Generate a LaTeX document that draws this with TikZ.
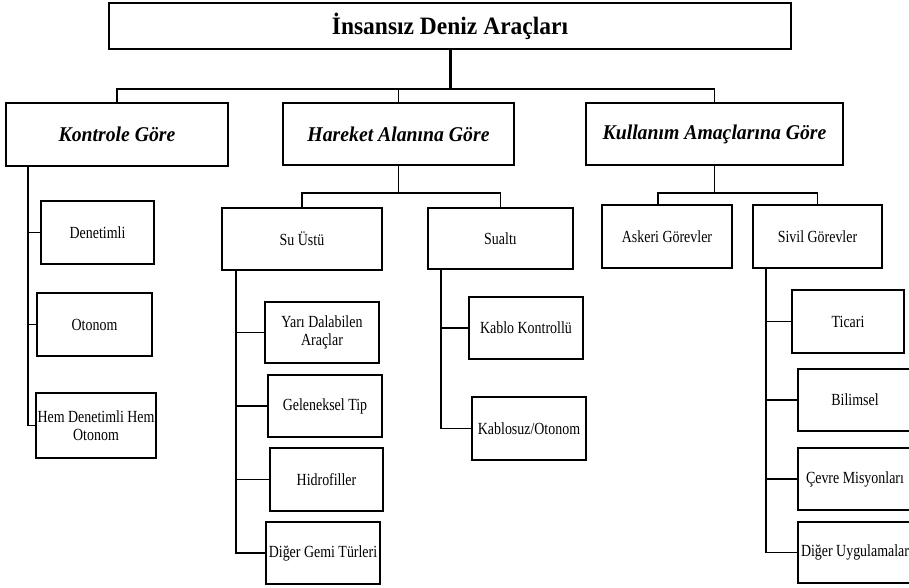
\documentclass[tikz,border=0pt]{standalone}
\usepackage{fontspec}
\setmainfont{Liberation Serif}
\newfontfamily\headfont[FakeStretch=0.94]{Liberation Serif}
\newfontfamily\leaffont[FakeStretch=0.82]{Liberation Serif}
\usetikzlibrary{calc}

\begin{document}
\begin{tikzpicture}[
	x=1pt,y=-1pt,
	box/.style={draw,line width=2pt,inner sep=1pt,align=center,
		font=\leaffont\fontsize{17}{17.5}\selectfont},
	top box/.style={box,font=\headfont\fontsize{25}{28}\selectfont\bfseries},
	mid box/.style={box,font=\headfont\fontsize{21}{24}\selectfont\bfseries\itshape},
	link/.style={line width=1.8pt}
	]
	
	\useasboundingbox (0,0) rectangle (909,587);
	
	% root and the three groups
	\node[top box,minimum width=682pt,minimum height=46pt] (T) at (450,26) {İnsansız Deniz Araçları};
	\node[mid box,minimum width=222pt,minimum height=63pt] (K) at (117,134.5) {Kontrole Göre};
	\node[mid box,minimum width=231pt,minimum height=62pt] (H) at (398.5,134) {Hareket Alanına Göre};
	\node[mid box,minimum width=257pt,minimum height=62pt] (U) at (714.5,134) {Kullanım Amaçlarına Göre};
	
	% Kontrole Gore
	\node[box,minimum width=113pt,minimum height=63pt] (K1) at (97.5,232.5) {Denetimli};
	\node[box,minimum width=115pt,minimum height=63pt] (K2) at (94.5,324.5) {Otonom};
	\node[box,minimum width=120pt,minimum height=65pt,inner sep=0pt] (K3) at (96,425.5) {Hem Denetimli Hem\\Otonom};
	
	% Hareket Alanina Gore
	\node[box,minimum width=160pt,minimum height=62pt] (S) at (302,239) {Su Üstü};
	\node[box,minimum width=145pt,minimum height=61pt] (A) at (500.5,238.5) {Sualtı};
	\node[box,minimum width=114pt,minimum height=61pt] (S1) at (322,332.5) {Yarı Dalabilen\\Araçlar};
	\node[box,minimum width=114pt,minimum height=62pt] (S2) at (325,406) {Geleneksel Tip};
	\node[box,minimum width=113pt,minimum height=63pt] (S3) at (326.5,479.5) {Hidrofiller};
	\node[box,minimum width=114pt,minimum height=62pt,inner sep=0pt] (S4) at (323,553) {Diğer Gemi Türleri};
	\node[box,minimum width=114pt,minimum height=62pt] (A1) at (526,328) {Kablo Kontrollü};
	\node[box,minimum width=114pt,minimum height=63pt] (A2) at (529,428.5) {Kablosuz/Otonom};
	
	% Kullanim Amaclarina Gore
	\node[box,minimum width=130pt,minimum height=63pt] (M) at (667,236.5) {Askeri Görevler};
	\node[box,minimum width=129pt,minimum height=63pt] (V) at (817.5,236.5) {Sivil Görevler};
	\node[box,minimum width=112pt,minimum height=63pt] (V1) at (848,321.5) {Ticari};
	\node[box,minimum width=114pt,minimum height=62pt] (V2) at (855,400) {Bilimsel};
	\node[box,minimum width=114pt,minimum height=62pt] (V3) at (855,479) {Çevre Misyonları};
	\node[box,minimum width=114pt,minimum height=61pt,inner sep=0pt] (V4) at (855,552.5) {Diğer Uygulamalar};
	
	% junctions
	\coordinate (t0) at (450,89);
	\coordinate (h0) at (398.5,193);
	\coordinate (u0) at (714.5,193);
	\coordinate (k0) at ([xshift=23pt]K.south west);
	\coordinate (s0) at ([xshift=15pt]S.south west);
	\coordinate (a0) at ([xshift=14pt]A.south west);
	\coordinate (v0) at ([xshift=14pt]V.south west);
	
	\draw[line width=3pt] (T) -- (t0);
	\draw[link] (K.north) |- (t0) -| (U.north);
	\draw[link] (H.north) -- (H.north |- t0);
	
	\draw[link] (H.south) -- (h0);
	\draw[link] (S.north) |- (h0) -| (A.north);
	\draw[link] (U.south) -- (u0);
	\draw[link] ([xshift=-9pt]M.north) |- (u0) -| (V.north);
	
	\draw[link] (k0) |- (K3.west);
	\draw[link] (K1.west -| k0) -- (K1.west);
	\draw[link] (K2.west -| k0) -- (K2.west);
	
	\draw[link] (s0) |- (S4.west);
	\foreach \n in {S1,S2,S3}
		\draw[link] (\n.west -| s0) -- (\n.west);
	
	\draw[link] (a0) |- (A2.west);
	\draw[link] (A1.west -| a0) -- (A1.west);
	
	\draw[link] (v0) |- (V4.west);
	\foreach \n in {V1,V2,V3}
		\draw[link] (\n.west -| v0) -- (\n.west);
\end{tikzpicture}
\end{document}
